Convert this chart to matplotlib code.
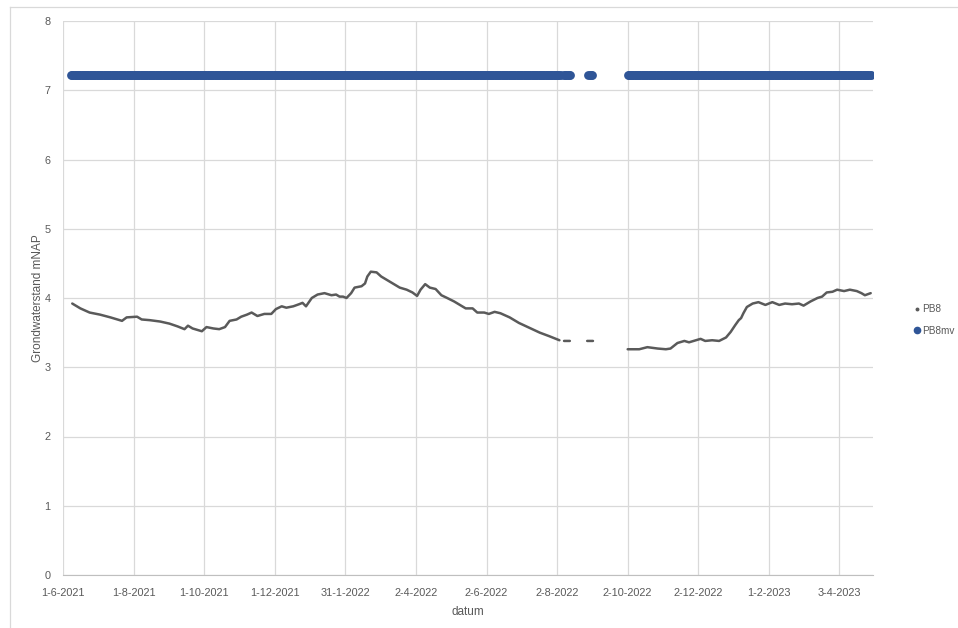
import numpy as np
import pandas as pd
import matplotlib
matplotlib.use("Agg")
import matplotlib.pyplot as plt
from matplotlib.lines import Line2D

plt.rcParams['font.family'] = ['Liberation Sans', 'DejaVu Sans']

# --- data -------------------------------------------------------------
start = pd.Timestamp("2021-06-01")

# PB8 groundwater level (m NAP), day offset from 1-6-2021; NaN marks gaps in the logger record
pb8_day = [8, 15, 23, 32, 41, 51, 55, 64, 68, 75, 84, 92, 99, 105, 108, 112, 118, 120,
           124, 130, 135, 140, 144, 150, 154, 159, 163, 168, 174, 180, 184, 189, 193, 199,
           204, 207, 210, 215, 220, 226, 232, 236, 239, 242, 245, 249, 252, 258, 261, 263,
           266, 271, 275, 281, 286, 291, 297, 302, 306, 309, 313, 317, 322, 327, 332, 338,
           344, 348, 354, 358, 364, 368, 373, 378, 386, 394, 403, 412, 420, 429,
           431, 433, 438, 445, 453, 458, 470,
           488, 498, 505, 514, 521, 525, 531, 537, 541, 547, 551, 555, 561, 567, 573, 577,
           581, 584, 586, 588, 591, 596, 601, 607, 613, 619, 624, 630, 636, 640, 646, 652,
           656, 660, 665, 669, 675, 680, 686, 690, 693, 698]
pb8_val = [3.92, 3.85, 3.79, 3.76, 3.72, 3.67, 3.72, 3.73, 3.69, 3.68, 3.66, 3.63, 3.59, 3.55,
           3.60, 3.56, 3.53, 3.52, 3.58, 3.56, 3.55, 3.58, 3.67, 3.69, 3.73, 3.76, 3.79, 3.74,
           3.77, 3.77, 3.84, 3.88, 3.86, 3.88, 3.91, 3.93, 3.88, 4.00, 4.05, 4.07, 4.04, 4.05,
           4.02, 4.02, 4.00, 4.07, 4.15, 4.17, 4.21, 4.31, 4.38, 4.37, 4.31, 4.25, 4.20, 4.15,
           4.12, 4.08, 4.03, 4.12, 4.20, 4.15, 4.13, 4.04, 4.00, 3.95, 3.89, 3.85, 3.85, 3.79,
           3.79, 3.77, 3.80, 3.78, 3.72, 3.64, 3.57, 3.50, 3.45, 3.39,
           np.nan, 3.38, 3.38, np.nan, 3.38, 3.38, np.nan,
           3.26, 3.26, 3.29, 3.27, 3.26, 3.27, 3.35, 3.38, 3.36, 3.39, 3.41, 3.38, 3.39, 3.38,
           3.43, 3.51, 3.61, 3.68, 3.71, 3.78, 3.87, 3.92, 3.94, 3.90, 3.94, 3.90, 3.92, 3.91,
           3.92, 3.89, 3.95, 4.00, 4.02, 4.08, 4.09, 4.12, 4.10, 4.12, 4.10, 4.07, 4.04, 4.07]

# PB8mv: surface level (m NAP), present on the days of these record periods
mv_level = 7.22
mv_periods = [(7, 430), (433, 438), (454, 457), (488, 698)]

tick_days = [0, 61, 122, 183, 244, 305, 366, 427, 488, 549, 610, 671]
x_end_day = 700

# --- figure -----------------------------------------------------------
fig = plt.figure(figsize=(9.58, 6.28), dpi=100)
ax = fig.add_axes([63 / 958, 53 / 628, 810 / 958, 554 / 628])

grid_c = "#d9d9d9"
text_c = "#595959"
blue = "#2f5597"
grey = "#5a5a5a"

pb8_dates = start + pd.to_timedelta(pb8_day, unit="D")
mv_dates = pd.DatetimeIndex(np.concatenate([
    pd.date_range(start + pd.Timedelta(days=a), start + pd.Timedelta(days=b), freq="D").values
    for a, b in mv_periods]))

ax.scatter(mv_dates, np.full(len(mv_dates), mv_level), s=40, color=blue,
           linewidths=0, zorder=3)
ax.plot(pb8_dates, pb8_val, color=grey, lw=1.8, solid_joinstyle="round",
        solid_capstyle="round", zorder=4)

ticks = [start + pd.Timedelta(days=d) for d in tick_days]
ax.set_xticks(ticks)
ax.set_xticklabels([f"{t.day}-{t.month}-{t.year}" for t in ticks])
ax.set_xlim(start, start + pd.Timedelta(days=x_end_day))
ax.set_ylim(0, 8)
ax.set_yticks(range(0, 9))

ax.grid(True, color=grid_c, lw=0.9)
ax.set_axisbelow(True)
for s in ("top", "right", "left"):
    ax.spines[s].set_visible(False)
ax.spines["bottom"].set_color("#bfbfbf")
ax.tick_params(length=0, labelsize=7.8, colors=text_c, pad=9)
ax.tick_params(axis="y", pad=9)

ax.set_xlabel("datum", fontsize=8.5, color=text_c, labelpad=6)
ax.set_ylabel("Grondwaterstand mNAP", fontsize=8.5, color=text_c, labelpad=0)

handles = [
    Line2D([], [], linestyle="none", marker="o", ms=1.8, color=grey),
    Line2D([], [], linestyle="none", marker="o", ms=4.5, color=blue),
]
fig.legend(handles, ["PB8", "PB8mv"], loc="center left",
           bbox_to_anchor=(914 / 958, 1 - 320 / 628), frameon=False,
           fontsize=7.2, labelcolor=text_c, handlelength=0.6, handletextpad=0.25,
           labelspacing=1.1, borderaxespad=0, borderpad=0)

# chart-area border
fig.add_artist(Line2D([10 / 958, 1.0], [1 - 7 / 628, 1 - 7 / 628],
                      transform=fig.transFigure, color=grid_c, lw=0.9))
fig.add_artist(Line2D([10 / 958, 10 / 958], [0, 1 - 7 / 628],
                      transform=fig.transFigure, color=grid_c, lw=0.9))

fig.savefig("out.png", dpi=100)
